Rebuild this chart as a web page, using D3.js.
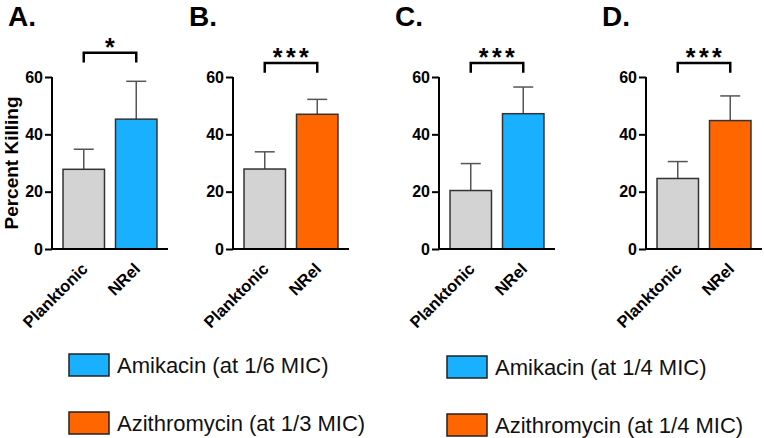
<!DOCTYPE html>
<html><head><meta charset="utf-8">
<script src="https://cdn.jsdelivr.net/npm/d3@7/dist/d3.min.js"></script>
<style>body{margin:0;background:#fff;} svg{display:block;}</style>
</head><body>
<svg id="chart" width="764" height="438"></svg>
<script>
const panels = ["A.", "B.", "C.", "D."];
const categories = ["Planktonic", "NRel"];
const means = [[27.8, 45.3], [27.9, 47.0], [20.4, 47.2], [24.6, 44.8]];
const sems = [[7.0, 13.2], [6.0, 5.2], [9.4, 9.3], [5.9, 8.6]];
const drugs = ["amikacin", "azithromycin", "amikacin", "azithromycin"];
const sigLabels = ["*", "***", "***", "***"];
const sigLevel = [68.5, 64.9, 64.9, 64.9];
const yTicks = [0, 20, 40, 60];
const legendLeft = ["Amikacin (at 1/6 MIC)", "Azithromycin (at 1/3 MIC)"];
const legendRight = ["Amikacin (at 1/4 MIC)", "Azithromycin (at 1/4 MIC)"];
const colors = {planktonic: "#d3d3d3", amikacin: "#18b0ff", azithromycin: "#ff6600"};

const svg = d3.select("#chart");
const font = "'Liberation Sans', Arial, Helvetica, sans-serif";
const axisX = [52, 233, 439, 646];
const plotW = 116;
const y = d3.scaleLinear().domain([0, 60]).range([249, 77]);

panels.forEach((p, i) => {
  const g = svg.append("g");
  const x = d3.scaleBand().domain(categories).range([axisX[i], axisX[i] + plotW]).padding(0.21);
  g.append("text").attr("x", axisX[i] - 44).attr("y", 26).text(p)
    .attr("font-family", font).attr("font-weight", "bold").attr("font-size", 28).attr("fill", "#000");
  categories.forEach((c, j) => {
    const fill = j === 0 ? colors.planktonic : colors[drugs[i]];
    const cx = x(c) + x.bandwidth() / 2;
    const top = y(means[i][j] + sems[i][j]);
    g.append("line").attr("x1", cx).attr("x2", cx).attr("y1", y(means[i][j])).attr("y2", top)
      .attr("stroke", "#555").attr("stroke-width", 1.5);
    g.append("line").attr("x1", cx - 10).attr("x2", cx + 10).attr("y1", top).attr("y2", top)
      .attr("stroke", "#555").attr("stroke-width", 1.5);
    g.append("rect").attr("x", x(c)).attr("y", y(means[i][j])).attr("width", x.bandwidth())
      .attr("height", y(0) - y(means[i][j])).attr("fill", fill)
      .attr("stroke", "#333").attr("stroke-width", 1.5);
    g.append("text").attr("transform", `translate(${cx + 5},${y(0) + 21}) rotate(-45)`)
      .attr("text-anchor", "end").text(c)
      .attr("font-family", font).attr("font-weight", "bold").attr("font-size", 16.5).attr("fill", "#000");
  });
  const ya = g.append("g").attr("transform", `translate(${axisX[i]},0)`)
    .call(d3.axisLeft(y).tickValues(yTicks).tickSize(7).tickPadding(2));
  ya.select(".domain").attr("stroke", "#000").attr("stroke-width", 2).attr("d", `M0,${y(60)}V${y(0)}`);
  ya.selectAll(".tick line").attr("stroke", "#000").attr("stroke-width", 2);
  ya.selectAll(".tick text").attr("font-family", font).attr("font-weight", "bold")
    .attr("font-size", 16).attr("fill", "#000");
  g.append("line").attr("x1", axisX[i] - 1).attr("x2", axisX[i] + plotW).attr("y1", y(0)).attr("y2", y(0))
    .attr("stroke", "#000").attr("stroke-width", 2);
  const x1 = x(categories[0]) + x.bandwidth() / 2, x2 = x(categories[1]) + x.bandwidth() / 2;
  const yb = y(sigLevel[i]), yb2 = y(sigLevel[i] - 3.4);
  g.append("path").attr("d", `M${x1},${yb2}V${yb}H${x2}V${yb2}`)
    .attr("fill", "none").attr("stroke", "#000").attr("stroke-width", 2.5);
  g.append("text").attr("x", (x1 + x2) / 2 + 1.5).attr("y", yb + 3).attr("text-anchor", "middle").text(sigLabels[i])
    .attr("letter-spacing", 3.5)
    .attr("font-family", font).attr("font-weight", "bold").attr("font-size", 25).attr("fill", "#000");
});

svg.append("text").attr("transform", "translate(18,163) rotate(-90)").attr("text-anchor", "middle")
  .text("Percent Killing").attr("font-family", font).attr("font-weight", "bold").attr("font-size", 19).attr("fill", "#000");

function legend(x0, y0, labels) {
  const keys = ["amikacin", "azithromycin"];
  labels.forEach((l, k) => {
    const yy = y0 + k * 58;
    svg.append("rect").attr("x", x0).attr("y", yy).attr("width", 40).attr("height", 22)
      .attr("fill", colors[keys[k]]).attr("stroke", "#222").attr("stroke-width", 1.5);
    svg.append("text").attr("x", x0 + 48).attr("y", yy + 11).attr("dy", "0.35em").text(l)
      .attr("font-family", font).attr("font-size", 22).attr("fill", "#111");
  });
}
legend(69, 354, legendLeft);
legend(447, 356, legendRight);
</script>
</body></html>
